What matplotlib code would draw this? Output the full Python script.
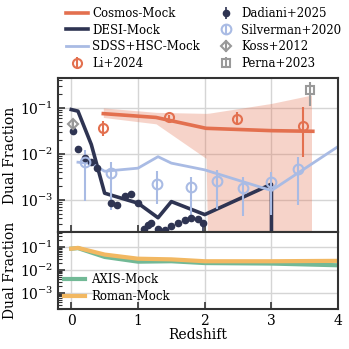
import numpy as np
import matplotlib
matplotlib.use('Agg')
import matplotlib.pyplot as plt

plt.rcParams['font.family'] = ['DejaVu Serif']
plt.rcParams['mathtext.fontset'] = 'dejavuserif'

# ---- data ----
# mock curves
cosmos_z = [0.48, 1.27, 2.02, 3.0, 3.62]
cosmos_f = [0.075, 0.062, 0.036, 0.032, 0.031]
band_z = [0.48, 1.27, 2.02, 2.07, 3.0, 3.6]
band_hi = [0.1, 0.08, 0.076, 0.077, 0.125, 0.19]
band_lo = [0.062, 0.045, 0.008, 1e-6, 1e-6, 1e-6]

desi_z = [0.0, 0.1, 0.3, 0.5, 1.0, 1.3, 1.5, 2.0, 3.0, 3.0]
desi_f = [0.092, 0.085, 0.016, 1.4e-3, 8.5e-4, 4.1e-4, 9.2e-4, 4.8e-4, 2.2e-3, 1e-6]

sdss_z = [0.1, 0.3, 0.5, 1.0, 1.3, 1.5, 2.0, 3.0, 4.0]
sdss_f = [0.0066, 0.0062, 0.0042, 0.0049, 0.0087, 0.0063, 0.0045, 0.0016, 0.0145]

axis_z = [0.0, 0.1, 0.5, 1.0, 1.5, 2.0, 3.0, 4.0]
axis_f = [0.085, 0.09, 0.037, 0.023, 0.024, 0.02, 0.019, 0.016]
roman_z = [0.0, 0.1, 0.5, 1.0, 1.5, 2.0, 3.0, 4.0]
roman_f = [0.085, 0.092, 0.047, 0.031, 0.029, 0.024, 0.024, 0.025]

# observations
li_z = [0.48, 1.47, 2.48, 3.47]
li_f = [0.036, 0.062, 0.058, 0.041]
li_lo = [0.024, 0.055, 0.043, 0.0087]
li_hi = [0.052, 0.07, 0.083, 0.107]

dad_z = [0.03, 0.1, 0.2, 0.3, 0.39, 0.6, 0.69, 0.8, 0.9, 1.0, 1.09, 1.15, 1.2,
         1.3, 1.4, 1.5, 1.6, 1.7, 1.8, 1.9, 1.97]
dad_f = [0.032, 0.0125, 0.008, 0.0066, 0.005, 8.5e-4, 7.8e-4, 1.2e-3, 1.35e-3,
         8.7e-4, 2.3e-4, 2.8e-4, 3.1e-4, 2.3e-4, 2.2e-4, 2.7e-4, 3.2e-4, 3.6e-4,
         4.1e-4, 3.9e-4, 3.2e-4]
dad_lo = [0.026, 0.011, 0.007, 0.0058, 0.0044, 7.5e-4, 6.9e-4, 1.05e-3, 1.2e-3,
          7.7e-4, 1e-6, 2.4e-4, 2.7e-4, 1e-6, 1e-6, 2.3e-4, 2.8e-4, 3.1e-4,
          3.6e-4, 3.4e-4, 1e-6]
dad_hi = [0.038, 0.0142, 0.009, 0.0075, 0.0057, 9.6e-4, 8.8e-4, 1.35e-3, 1.5e-3,
          9.8e-4, 2.7e-4, 3.2e-4, 3.5e-4, 2.7e-4, 2.6e-4, 3.1e-4, 3.6e-4, 4.1e-4,
          4.6e-4, 4.4e-4, 3.6e-4]

silv_z = [0.2, 0.6, 1.28, 1.8, 2.18, 2.58, 3.0, 3.4]
silv_f = [0.0066, 0.0039, 0.0022, 0.0019, 0.0026, 0.0018, 0.0024, 0.0047]
silv_lo = [9.5e-4, 6e-4, 8e-4, 4.8e-4, 6.2e-4, 4.4e-4, 4.8e-4, 7.8e-4]
silv_hi = [0.0123, 0.0066, 0.0042, 0.0032, 0.0045, 0.0032, 0.0041, 0.0087]

koss_z = [0.03]
koss_f = [0.045]
koss_lo = [0.038]
koss_hi = [0.054]

perna_z = [3.58]
perna_f = [0.245]
perna_lo = [0.11]
perna_hi = [0.36]

c_cosmos = '#e3704f'
c_desi = '#2e3452'
c_sdss = '#a9bbe4'
c_gray = '#999999'
c_axis = '#72b996'
c_roman = '#f2b862'


def yerr(f, lo, hi):
    f = np.array(f)
    return [f - np.array(lo), np.array(hi) - f]


fig = plt.figure(figsize=(3.49, 3.49), dpi=100)
ax = fig.add_axes([0.166, 0.335, 0.803, 0.442])
ax2 = fig.add_axes([0.166, 0.115, 0.803, 0.220])

# top panel
ax.fill_between(band_z, band_lo, band_hi, color=c_cosmos, alpha=0.3, lw=0)
h1, = ax.plot(cosmos_z, cosmos_f, color=c_cosmos, lw=2.6, label='Cosmos-Mock')
h2, = ax.plot(desi_z, desi_f, color=c_desi, lw=2.6, label='DESI-Mock')
h3, = ax.plot(sdss_z, sdss_f, color=c_sdss, lw=2.0, label='SDSS+HSC-Mock')
h4 = ax.errorbar(li_z, li_f, yerr=yerr(li_f, li_lo, li_hi), fmt='o', mfc='none',
                 mec=c_cosmos, ecolor=c_cosmos, mew=1.5, ms=6.5, elinewidth=1.5,
                 label='Li+2024')
h5 = ax.errorbar(dad_z, dad_f, yerr=yerr(dad_f, dad_lo, dad_hi), fmt='o',
                 color=c_desi, ms=4.5, elinewidth=1.2, label='Dadiani+2025')
h6 = ax.errorbar(silv_z, silv_f, yerr=yerr(silv_f, silv_lo, silv_hi), fmt='o',
                 mfc='none', mec=c_sdss, ecolor=c_sdss, mew=1.5, ms=7,
                 elinewidth=1.5, label='Silverman+2020')
h7 = ax.errorbar(koss_z, koss_f, yerr=yerr(koss_f, koss_lo, koss_hi), fmt='D',
                 mfc='none', mec=c_gray, ecolor=c_gray, mew=1.5, ms=5,
                 elinewidth=1.5, label='Koss+2012')
h8 = ax.errorbar(perna_z, perna_f, yerr=yerr(perna_f, perna_lo, perna_hi), fmt='s',
                 mfc='none', mec=c_gray, ecolor=c_gray, mew=1.5, ms=6,
                 elinewidth=1.5, label='Perna+2023')

# bottom panel
ax2.plot(axis_z, axis_f, color=c_axis, lw=3, label='AXIS-Mock')
ax2.plot(roman_z, roman_f, color=c_roman, lw=3, label='Roman-Mock')

for a in (ax, ax2):
    a.set_yscale('log')
    a.set_ylim(2e-4, 0.45)
    a.set_xlim(-0.2, 4.0)
    a.set_xticks([0, 1, 2, 3, 4])
    a.set_yticks([1e-1, 1e-2, 1e-3])
    a.grid(True, which='major', color='#d5d5d5', lw=1.0)
    a.set_axisbelow(True)
    a.tick_params(which='both', direction='in', labelsize=10, color='#333333')
    a.tick_params(which='major', length=5, width=1.2)
    a.tick_params(which='minor', length=3, width=0.8)
    a.tick_params(axis='x', which='minor', bottom=False)
    for s in a.spines.values():
        s.set_color('#333333')
        s.set_linewidth(1.5)
    a.set_ylabel('Dual Fraction', fontsize=10, labelpad=2)

ax.tick_params(axis='x', labelbottom=False)
ax2.set_xlabel('Redshift', fontsize=10, labelpad=0)

ax2.legend(loc='lower left', frameon=False, fontsize=8.5, handlelength=1.8,
           handletextpad=0.5, borderaxespad=0.1, labelspacing=0.3)

fig.legend(handles=[h1, h2, h3, h4, h5, h6, h7, h8], loc='upper left',
           bbox_to_anchor=(0.17, 1.0), ncol=2, frameon=False, fontsize=8.5,
           handlelength=1.8, handletextpad=0.4, labelspacing=0.3,
           columnspacing=1.3, borderaxespad=0.2)

fig.savefig('out.png', dpi=100)
